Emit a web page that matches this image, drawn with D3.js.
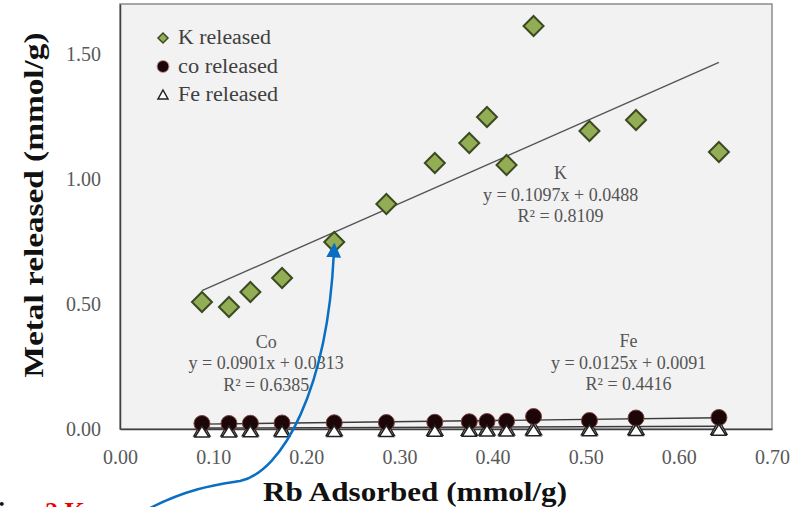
<!DOCTYPE html>
<html>
<head>
<meta charset="utf-8">
<script src="https://cdn.jsdelivr.net/npm/d3@7"></script>
<style>
  body { margin: 0; background: #fff; }
  svg { display: block; font-family: "Liberation Serif", "DejaVu Serif", serif; }
</style>
</head>
<body>
<div id="chart"></div>
<script>
// Rb adsorbed (x) and metals released (y), mmol/g
var rbAdsorbed = [0.088, 0.117, 0.140, 0.174, 0.230, 0.286, 0.338, 0.375, 0.394, 0.415, 0.444, 0.504, 0.554, 0.643];
var kReleased  = [0.508, 0.488, 0.548, 0.604, 0.748, 0.900, 1.064, 1.144, 1.248, 1.056, 1.612, 1.192, 1.236, 1.108];
var coReleased = [0.022, 0.022, 0.023, 0.024, 0.025, 0.026, 0.027, 0.029, 0.030, 0.031, 0.050, 0.034, 0.044, 0.046];
var feReleased = [0.004, 0.004, 0.005, 0.005, 0.006, 0.006, 0.007, 0.007, 0.008, 0.008, 0.009, 0.009, 0.010, 0.011];
var xTicks = [0, 0.1, 0.2, 0.3, 0.4, 0.5, 0.6, 0.7];
var yTicks = [0, 0.5, 1.0, 1.5];
var fitLabels = [
  { name: 'K',  eq: 'y = 0.1097x + 0.0488', r2: 'R\u00b2 = 0.8109', at: [0.473, 1.0] },
  { name: 'Co', eq: 'y = 0.0901x + 0.0313', r2: 'R\u00b2 = 0.6385', at: [0.157, 0.325] },
  { name: 'Fe', eq: 'y = 0.0125x + 0.0091', r2: 'R\u00b2 = 0.4416', at: [0.546, 0.328] }
];

var width = 804, height = 507;
var margin = { top: 4, right: 32, bottom: 78, left: 120 };

var svg = d3.select('#chart').append('svg')
  .attr('width', width)
  .attr('height', height);

var x = d3.scaleLinear().domain([0, 0.7]).range([margin.left, width - margin.right]);
var y = d3.scaleLinear().domain([0, 1.7]).range([height - margin.bottom, margin.top]);

// plot area
svg.append('rect')
  .attr('x', x(0)).attr('y', y(1.7))
  .attr('width', x(0.7) - x(0)).attr('height', y(0) - y(1.7))
  .style('fill', '#f2f2f2')
  .style('stroke', '#8c8c8c')
  .style('stroke-width', 1.5);

var xAxis = svg.append('g')
  .attr('transform', 'translate(0,' + y(0) + ')')
  .call(d3.axisBottom(x).tickValues(xTicks).tickFormat(d3.format('.2f')).tickSize(0).tickPadding(21));
var yAxis = svg.append('g')
  .attr('transform', 'translate(' + x(0) + ',0)')
  .call(d3.axisLeft(y).tickValues(yTicks).tickFormat(d3.format('.2f')).tickSize(0).tickPadding(19));
[xAxis, yAxis].forEach(function (a) {
  a.select('.domain').style('stroke', '#404040').style('stroke-width', 1.5);
  a.selectAll('text')
    .style('font-family', '"Liberation Serif", serif')
    .style('font-size', '20px')
    .style('fill', '#595959');
});

// least-squares trendlines over the measured range
function fit(xs, ys) {
  var mx = d3.mean(xs), my = d3.mean(ys);
  var sxy = d3.sum(xs, function (v, i) { return (v - mx) * (ys[i] - my); });
  var sxx = d3.sum(xs, function (v) { return (v - mx) * (v - mx); });
  var b = sxy / sxx;
  return function (v) { return my + b * (v - mx); };
}
var xExt = d3.extent(rbAdsorbed);
var line = d3.line().x(function (d) { return x(d[0]); }).y(function (d) { return y(d[1]); });
[kReleased, coReleased, feReleased].forEach(function (ys, i) {
  var f = fit(rbAdsorbed, ys);
  svg.append('path')
    .datum(xExt.map(function (v) { return [v, f(v)]; }))
    .attr('d', line)
    .style('fill', 'none')
    .style('stroke', i === 0 ? '#555' : '#3a3a3a')
    .style('stroke-width', 1.4);
});

var diamond = 'M0,-10L10,0L0,10L-10,0Z';
var triangle = 'M0,-7L8,7L-8,7Z';

function pts(ys) {
  return rbAdsorbed.map(function (v, i) { return [v, ys[i]]; });
}

// Fe
svg.append('g').selectAll('path')
  .data(pts(feReleased)).join('path')
  .attr('transform', function (d) { return 'translate(' + x(d[0]) + ',' + (y(d[1]) + 1) + ')'; })
  .attr('d', triangle)
  .style('fill', '#fff').style('stroke', '#222').style('stroke-width', 1.5);
// Co
svg.append('g').selectAll('circle')
  .data(pts(coReleased)).join('circle')
  .attr('cx', function (d) { return x(d[0]); })
  .attr('cy', function (d) { return y(d[1]); })
  .attr('r', 8)
  .style('fill', '#1c0607').style('stroke', '#7a4545').style('stroke-width', 1);
// Fe triangle fronts drawn over the circles
svg.append('g').selectAll('path')
  .data(pts(feReleased)).join('path')
  .attr('transform', function (d) { return 'translate(' + x(d[0]) + ',' + (y(d[1]) + 3) + ')'; })
  .attr('d', 'M0,-5L7,6L-7,6Z')
  .style('fill', '#fff').style('stroke', '#222').style('stroke-width', 1.5);
// K
svg.append('g').selectAll('path')
  .data(pts(kReleased)).join('path')
  .attr('transform', function (d) { return 'translate(' + x(d[0]) + ',' + y(d[1]) + ')'; })
  .attr('d', diamond)
  .style('fill', '#93ad55').style('stroke', '#3b4a22').style('stroke-width', 2);

// equations
fitLabels.forEach(function (l) {
  var t = svg.append('text')
    .attr('text-anchor', 'middle')
    .style('font-size', '18px')
    .style('fill', '#555');
  [l.name, l.eq, l.r2].forEach(function (s, i) {
    t.append('tspan')
      .attr('x', x(l.at[0]))
      .attr('y', y(l.at[1]) + i * 21.5)
      .text(s);
  });
});

// legend
var legend = svg.append('g').attr('transform', 'translate(163,38)');
var items = [
  { label: 'K released', kind: 'k' },
  { label: 'co released', kind: 'co' },
  { label: 'Fe released', kind: 'fe' }
];
items.forEach(function (it, i) {
  var g = legend.append('g').attr('transform', 'translate(0,' + i * 28.5 + ')');
  if (it.kind === 'k') {
    g.append('path').attr('d', 'M0,-5L5,0L0,5L-5,0Z')
      .style('fill', '#93ad55').style('stroke', '#3b4a22').style('stroke-width', 1.5);
  } else if (it.kind === 'co') {
    g.append('circle').attr('r', 6).style('fill', '#1c0607').style('stroke', '#c89a9a');
  } else {
    g.append('path').attr('d', 'M0,-5L5,4L-5,4Z')
      .style('fill', '#fff').style('stroke', '#222').style('stroke-width', 1.5);
  }
  g.append('text').attr('x', 15).attr('y', 6)
    .style('font-size', '20px').style('fill', '#404040')
    .attr('textLength', [93, 100, 100][i]).attr('lengthAdjust', 'spacingAndGlyphs')
    .text(it.label);
});

// axis titles
svg.append('text')
  .attr('x', 415).attr('y', 501)
  .attr('text-anchor', 'middle')
  .attr('textLength', 304).attr('lengthAdjust', 'spacingAndGlyphs')
  .style('font-size', '28px').style('font-weight', 'bold').style('fill', '#111')
  .text('Rb Adsorbed (mmol/g)');
svg.append('text')
  .attr('transform', 'translate(43,205) rotate(-90)')
  .attr('text-anchor', 'middle')
  .attr('textLength', 345).attr('lengthAdjust', 'spacingAndGlyphs')
  .style('font-size', '28px').style('font-weight', 'bold').style('fill', '#111')
  .text('Metal released (mmol/g)');

// caption, cut by the bottom edge as in the source image
svg.append('text').attr('x', -18).attr('y', 520)
  .style('font-size', '26px').style('font-weight', 'bold').style('fill', '#111').text('Fig.');
svg.append('text').attr('x', 45).attr('y', 520)
  .style('font-size', '26px').style('font-weight', 'bold').style('fill', '#e00').text('2 K');

// blue arrow pointing at a K point
svg.append('defs').append('marker')
  .attr('id', 'head').attr('viewBox', '0 0 10 10')
  .attr('refX', 5).attr('refY', 5)
  .attr('markerWidth', 6).attr('markerHeight', 6)
  .attr('orient', 'auto')
  .append('path').attr('d', 'M0,0L10,5L0,10Z').style('fill', '#0a6fc2');
svg.append('path')
  .attr('d', 'M150,508 C190,488 215,485 240,481 C282,472 328,390 334,250')
  .style('fill', 'none').style('stroke', '#0a6fc2').style('stroke-width', 2.5)
  .attr('marker-end', 'url(#head)');
</script>
</body>
</html>
